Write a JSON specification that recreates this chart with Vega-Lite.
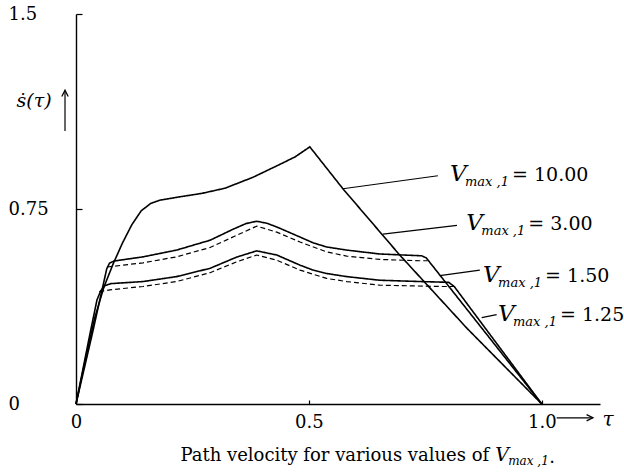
{
  "$schema": "https://vega.github.io/schema/vega-lite/v6.json",
  "width": 524,
  "height": 390,
  "autosize": {"type": "none"},
  "padding": {"left": 76, "top": 14, "right": 24, "bottom": 70},
  "background": "white",
  "config": {"view": {"stroke": null}, "font": "DejaVu Serif", "text": {"font": "DejaVu Serif", "color": "black"}},
  "datasets": {
    "curves": [
      {"s": "V10", "d": "solid", "x": 0, "y": 0}, {"s": "V10", "d": "solid", "x": 0.02, "y": 0.17}, {"s": "V10", "d": "solid", "x": 0.04, "y": 0.33}, {"s": "V10", "d": "solid", "x": 0.06, "y": 0.45}, {"s": "V10", "d": "solid", "x": 0.08, "y": 0.54}, {"s": "V10", "d": "solid", "x": 0.10, "y": 0.62}, {"s": "V10", "d": "solid", "x": 0.12, "y": 0.69}, {"s": "V10", "d": "solid", "x": 0.14, "y": 0.743}, {"s": "V10", "d": "solid", "x": 0.16, "y": 0.771}, {"s": "V10", "d": "solid", "x": 0.18, "y": 0.784}, {"s": "V10", "d": "solid", "x": 0.22, "y": 0.796}, {"s": "V10", "d": "solid", "x": 0.27, "y": 0.810}, {"s": "V10", "d": "solid", "x": 0.32, "y": 0.830}, {"s": "V10", "d": "solid", "x": 0.38, "y": 0.872}, {"s": "V10", "d": "solid", "x": 0.43, "y": 0.915}, {"s": "V10", "d": "solid", "x": 0.47, "y": 0.950}, {"s": "V10", "d": "solid", "x": 0.502, "y": 0.989}, {"s": "V10", "d": "solid", "x": 0.573, "y": 0.828}, {"s": "V10", "d": "solid", "x": 0.695, "y": 0.573}, {"s": "V10", "d": "solid", "x": 0.84, "y": 0.29}, {"s": "V10", "d": "solid", "x": 1.0, "y": 0},
      {"s": "V3", "d": "solid", "x": 0, "y": 0}, {"s": "V3", "d": "solid", "x": 0.035, "y": 0.27}, {"s": "V3", "d": "solid", "x": 0.066, "y": 0.52}, {"s": "V3", "d": "solid", "x": 0.072, "y": 0.542}, {"s": "V3", "d": "solid", "x": 0.082, "y": 0.55}, {"s": "V3", "d": "solid", "x": 0.144, "y": 0.566}, {"s": "V3", "d": "solid", "x": 0.216, "y": 0.592}, {"s": "V3", "d": "solid", "x": 0.288, "y": 0.630}, {"s": "V3", "d": "solid", "x": 0.337, "y": 0.672}, {"s": "V3", "d": "solid", "x": 0.365, "y": 0.694}, {"s": "V3", "d": "solid", "x": 0.388, "y": 0.703}, {"s": "V3", "d": "solid", "x": 0.41, "y": 0.695}, {"s": "V3", "d": "solid", "x": 0.431, "y": 0.681}, {"s": "V3", "d": "solid", "x": 0.481, "y": 0.642}, {"s": "V3", "d": "solid", "x": 0.509, "y": 0.620}, {"s": "V3", "d": "solid", "x": 0.538, "y": 0.604}, {"s": "V3", "d": "solid", "x": 0.581, "y": 0.592}, {"s": "V3", "d": "solid", "x": 0.652, "y": 0.577}, {"s": "V3", "d": "solid", "x": 0.742, "y": 0.570}, {"s": "V3", "d": "solid", "x": 0.752, "y": 0.562}, {"s": "V3", "d": "solid", "x": 1.0, "y": 0},
      {"s": "V3d", "d": "dashed", "x": 0.067, "y": 0.527}, {"s": "V3d", "d": "dashed", "x": 0.144, "y": 0.543}, {"s": "V3d", "d": "dashed", "x": 0.216, "y": 0.566}, {"s": "V3d", "d": "dashed", "x": 0.288, "y": 0.602}, {"s": "V3d", "d": "dashed", "x": 0.345, "y": 0.649}, {"s": "V3d", "d": "dashed", "x": 0.388, "y": 0.684}, {"s": "V3d", "d": "dashed", "x": 0.431, "y": 0.661}, {"s": "V3d", "d": "dashed", "x": 0.481, "y": 0.623}, {"s": "V3d", "d": "dashed", "x": 0.538, "y": 0.585}, {"s": "V3d", "d": "dashed", "x": 0.581, "y": 0.569}, {"s": "V3d", "d": "dashed", "x": 0.652, "y": 0.556}, {"s": "V3d", "d": "dashed", "x": 0.738, "y": 0.551}, {"s": "V3d", "d": "dashed", "x": 0.755, "y": 0.551},
      {"s": "V15", "d": "solid", "x": 0, "y": 0}, {"s": "V15", "d": "solid", "x": 0.03, "y": 0.27}, {"s": "V15", "d": "solid", "x": 0.045, "y": 0.40}, {"s": "V15", "d": "solid", "x": 0.053, "y": 0.435}, {"s": "V15", "d": "solid", "x": 0.062, "y": 0.455}, {"s": "V15", "d": "solid", "x": 0.075, "y": 0.463}, {"s": "V15", "d": "solid", "x": 0.144, "y": 0.471}, {"s": "V15", "d": "solid", "x": 0.216, "y": 0.490}, {"s": "V15", "d": "solid", "x": 0.288, "y": 0.522}, {"s": "V15", "d": "solid", "x": 0.345, "y": 0.565}, {"s": "V15", "d": "solid", "x": 0.388, "y": 0.589}, {"s": "V15", "d": "solid", "x": 0.431, "y": 0.573}, {"s": "V15", "d": "solid", "x": 0.481, "y": 0.534}, {"s": "V15", "d": "solid", "x": 0.509, "y": 0.515}, {"s": "V15", "d": "solid", "x": 0.538, "y": 0.502}, {"s": "V15", "d": "solid", "x": 0.581, "y": 0.490}, {"s": "V15", "d": "solid", "x": 0.652, "y": 0.476}, {"s": "V15", "d": "solid", "x": 0.738, "y": 0.471}, {"s": "V15", "d": "solid", "x": 0.80, "y": 0.468}, {"s": "V15", "d": "solid", "x": 0.812, "y": 0.452}, {"s": "V15", "d": "solid", "x": 1.0, "y": 0},
      {"s": "V15d", "d": "dashed", "x": 0.05, "y": 0.432}, {"s": "V15d", "d": "dashed", "x": 0.073, "y": 0.439}, {"s": "V15d", "d": "dashed", "x": 0.144, "y": 0.452}, {"s": "V15d", "d": "dashed", "x": 0.216, "y": 0.471}, {"s": "V15d", "d": "dashed", "x": 0.288, "y": 0.505}, {"s": "V15d", "d": "dashed", "x": 0.345, "y": 0.547}, {"s": "V15d", "d": "dashed", "x": 0.388, "y": 0.573}, {"s": "V15d", "d": "dashed", "x": 0.431, "y": 0.553}, {"s": "V15d", "d": "dashed", "x": 0.481, "y": 0.515}, {"s": "V15d", "d": "dashed", "x": 0.538, "y": 0.483}, {"s": "V15d", "d": "dashed", "x": 0.581, "y": 0.471}, {"s": "V15d", "d": "dashed", "x": 0.652, "y": 0.457}, {"s": "V15d", "d": "dashed", "x": 0.781, "y": 0.452}, {"s": "V15d", "d": "dashed", "x": 0.812, "y": 0.452}
    ],
    "leaders": [
      {"x": 0.777, "y": 0.878, "x2": 0.573, "y2": 0.828},
      {"x": 0.818, "y": 0.687, "x2": 0.659, "y2": 0.653},
      {"x": 0.867, "y": 0.515, "x2": 0.781, "y2": 0.494},
      {"x": 0.903, "y": 0.344, "x2": 0.871, "y2": 0.332},
      {"x": 1.032, "y": -0.053, "x2": 1.109, "y2": -0.053},
      {"x": -0.0236, "y": 1.050, "x2": -0.0236, "y2": 1.205}
    ],
    "heads": [
      {"x": 1.103, "y": -0.053, "dir": "right"},
      {"x": -0.0236, "y": 1.195, "dir": "up"}
    ],
    "labels": [
      {"x": 0.803, "y": 0.859, "v": "= 10.00"},
      {"x": 0.838, "y": 0.668, "v": "= 3.00"},
      {"x": 0.874, "y": 0.471, "v": "= 1.50"},
      {"x": 0.906, "y": 0.318, "v": "= 1.25"}
    ],
    "ylab": [{"x": -0.090, "y": 1.164}],
    "xlab": [{"x": 1.142, "y": -0.061}],
    "caption": [{"x": 0.900, "y": -0.221}]
  },
  "encoding": {
    "x": {"field": "x", "type": "quantitative", "scale": {"domain": [0, 1.125], "nice": false, "zero": false},
      "axis": {"values": [0, 0.5, 1], "title": null, "grid": false, "domainColor": "black", "domainWidth": 1.4, "tickColor": "black", "tickSize": -4, "tickWidth": 1.2, "labelFont": "DejaVu Serif", "labelFontSize": 18, "labelColor": "black", "labelPadding": 13, "labelExpr": "datum.value == 0 ? '0' : format(datum.value, '.1f')", "labelFlush": false, "labelOverlap": false}},
    "y": {"field": "y", "type": "quantitative", "scale": {"domain": [0, 1.5], "nice": false, "zero": false},
      "axis": {"values": [0, 0.75, 1.5], "title": null, "grid": false, "domainColor": "black", "domainWidth": 1.4, "tickColor": "black", "tickSize": -6, "tickWidth": 1.2, "labelFont": "DejaVu Serif", "labelFontSize": 18, "labelColor": "black", "labelAlign": "left", "labelBaseline": "middle", "labelPadding": 74, "format": "~g", "labelFlush": false, "labelOverlap": false}}
  },
  "layer": [
    {"data": {"name": "curves"}, "mark": {"type": "line", "color": "black"},
      "encoding": {"detail": {"field": "s"},
        "strokeDash": {"field": "d", "type": "nominal", "scale": {"domain": ["solid", "dashed"], "range": [[1, 0], [5, 3]]}, "legend": null},
        "strokeWidth": {"field": "d", "type": "nominal", "scale": {"domain": ["solid", "dashed"], "range": [1.6, 1.2]}, "legend": null}}},
    {"data": {"name": "leaders"}, "mark": {"type": "rule", "color": "black", "strokeWidth": 1.2},
      "encoding": {"x2": {"field": "x2"}, "y2": {"field": "y2"}}},
    {"data": {"name": "heads"}, "mark": {"type": "point", "filled": false, "color": "black", "strokeWidth": 1.3, "size": 40, "opacity": 1},
      "encoding": {"shape": {"field": "dir", "type": "nominal", "scale": {"domain": ["right", "up"], "range": ["M-1,-1L1,0L-1,1", "M-1,1L0,-1L1,1"]}, "legend": null}}},
    {"data": {"name": "labels"}, "mark": {"type": "text", "text": "V", "fontStyle": "italic", "fontSize": 23, "align": "left", "baseline": "alphabetic"}},
    {"data": {"name": "labels"}, "mark": {"type": "text", "text": "max ,1", "fontStyle": "italic", "fontSize": 13, "align": "left", "baseline": "alphabetic", "dx": 15, "dy": 5}},
    {"data": {"name": "labels"}, "mark": {"type": "text", "fontSize": 19, "align": "left", "baseline": "alphabetic", "dx": 62}, "encoding": {"text": {"field": "v"}}},
    {"data": {"name": "ylab"}, "mark": {"type": "text", "text": "ṡ(τ)", "fontStyle": "italic", "fontSize": 19, "align": "center", "baseline": "middle"}},
    {"data": {"name": "xlab"}, "mark": {"type": "text", "text": "τ", "fontStyle": "italic", "fontSize": 20, "align": "center", "baseline": "middle"}},
    {"data": {"name": "caption"}, "mark": {"type": "text", "text": "Path velocity for various values of", "fontSize": 18, "align": "right", "baseline": "alphabetic", "dx": -6}},
    {"data": {"name": "caption"}, "mark": {"type": "text", "text": "V", "fontStyle": "italic", "fontSize": 19, "align": "left", "baseline": "alphabetic"}},
    {"data": {"name": "caption"}, "mark": {"type": "text", "text": "max ,1", "fontStyle": "italic", "fontSize": 12, "align": "left", "baseline": "alphabetic", "dx": 13, "dy": 4}},
    {"data": {"name": "caption"}, "mark": {"type": "text", "text": ".", "fontSize": 18, "align": "left", "baseline": "alphabetic", "dx": 54, "dy": 2}}
  ]
}
